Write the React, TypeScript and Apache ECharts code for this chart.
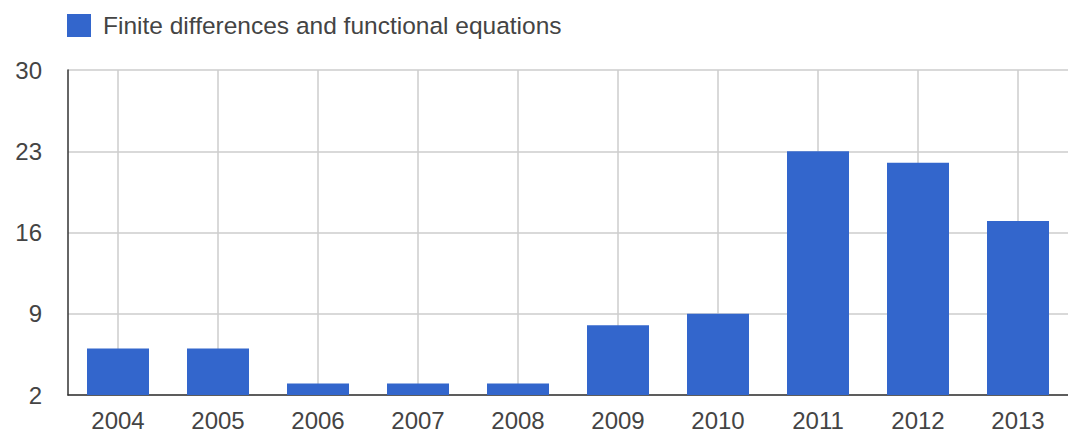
import React, { useEffect, useRef } from "react";
import * as echarts from "echarts";

const years = ["2004", "2005", "2006", "2007", "2008", "2009", "2010", "2011", "2012", "2013"];
const values = [6, 6, 3, 3, 3, 8, 9, 23, 22, 17];
const seriesName = "Finite differences and functional equations";
const yMin = 2;
const yMax = 30;
const yStep = 7;

// helper slots for vertical gridlines at category centres
const gridSlots = Array.from({ length: years.length * 2 + 1 }, (_, i) => String(i));

export default function App() {
  const ref = useRef<HTMLDivElement>(null);
  useEffect(() => {
    if (!ref.current) return;
    const chart = echarts.init(ref.current, undefined, { renderer: "svg" });
    const font = "Arial, 'Liberation Sans', sans-serif";
    chart.setOption({
      animation: false,
      backgroundColor: "#ffffff",
      textStyle: { fontFamily: font },
      legend: {
        left: 67,
        top: 13,
        itemWidth: 24,
        itemHeight: 23,
        icon: "rect",
        padding: 0,
        textStyle: { fontSize: 24.5, color: "#444", fontFamily: font, padding: [0, 0, 0, 7] },
        data: [seriesName],
      },
      grid: { left: 68, top: 70, width: 1005, bottom: 44, containLabel: false },
      xAxis: [
        {
          type: "category",
          data: years,
          axisLine: { show: true, lineStyle: { color: "#333", width: 1.5 } },
          axisTick: { show: false },
          axisLabel: { fontSize: 24, color: "#444", margin: 13, fontFamily: font },
          splitLine: { show: false },
        },
        {
          type: "category",
          data: gridSlots,
          boundaryGap: false,
          position: "bottom",
          axisLine: { show: false },
          axisTick: { show: false },
          axisLabel: { show: false },
          splitLine: {
            show: true,
            interval: (i: number) => i % 2 === 1,
            lineStyle: { color: "#ccc", width: 1.5 },
          },
        },
      ],
      yAxis: {
        type: "value",
        min: yMin,
        max: yMax,
        interval: yStep,
        axisLine: { show: true, lineStyle: { color: "#333", width: 1.5 } },
        axisTick: { show: false },
        axisLabel: { fontSize: 24, color: "#444", margin: 26, fontFamily: font },
        splitLine: { show: true, lineStyle: { color: "#ccc", width: 1.5 } },
      },
      series: [
        {
          name: seriesName,
          type: "bar",
          data: values,
          barWidth: 62,
          itemStyle: { color: "#3366cc" },
        },
      ],
    });
    return () => chart.dispose();
  }, []);
  return (
    <div
      ref={ref}
      style={{ position: "fixed", left: 0, top: 0, width: 1068, height: 439, background: "#fff" }}
    />
  );
}
